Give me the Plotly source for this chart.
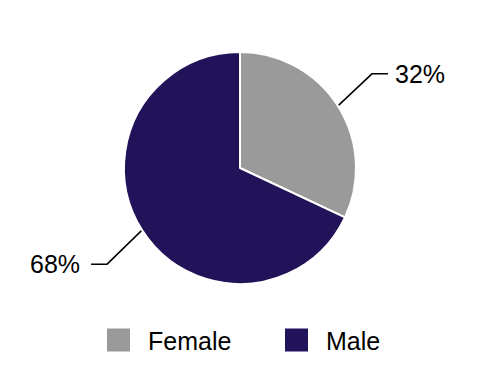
import math
import plotly.graph_objects as go

# ---- data ----
labels = ["Female", "Male"]
values = [32, 68]
colors = ["#9a9a9a", "#21125a"]
pct_labels = ["32%", "68%"]

# ---- layout constants ----
W, H = 478, 380
cx, cy, r = 240, 168, 116
FONT = "Liberation Sans, Arial, sans-serif"
FS = 25

fig = go.Figure()

fig.add_trace(go.Pie(
    labels=labels, values=values, sort=False, direction="clockwise", rotation=0,
    marker=dict(colors=colors, line=dict(color="white", width=2)),
    textinfo="none", hoverinfo="skip", showlegend=False,
    domain=dict(x=[(cx - r) / W, (cx + r) / W], y=[(H - cy - r) / H, (H - cy + r) / H]),
))

annotations = []
total = sum(values)
cum = 0
for v, t in zip(values, pct_labels):
    mid = (cum + v / 2) / total * 2 * math.pi
    cum += v
    sx, sy = math.sin(mid), -math.cos(mid)
    px, py = cx + r * sx, cy + r * sy
    side = 1 if sx >= 0 else -1
    if side > 0:
        ddx, ddy, gap = 34, 32, 5
    else:
        ddx, ddy, gap = 35, 34, 9
    ex = px + side * ddx
    ey = py + (ddy if sy > 0 else -ddy)
    hx = ex + side * 16
    fig.add_trace(go.Scatter(
        x=[px, ex, hx], y=[py, ey, ey], mode="lines",
        line=dict(color="black", width=1.5), hoverinfo="skip", showlegend=False,
        xaxis="x", yaxis="y",
    ))
    annotations.append(dict(
        x=hx + side * gap, y=ey, xref="x", yref="y", text=t, showarrow=False,
        xanchor="left" if side > 0 else "right", yanchor="middle",
        font=dict(family=FONT, size=FS, color="black"),
    ))

# manual legend
leg_x = [118.5, 296.5]
leg_y = 340
fig.add_trace(go.Scatter(
    x=leg_x, y=[leg_y] * len(leg_x), mode="markers",
    marker=dict(symbol="square", size=23, color=colors, line=dict(width=0)),
    hoverinfo="skip", showlegend=False,
))
for lx, lab in zip(leg_x, labels):
    annotations.append(dict(
        x=lx + 27, y=leg_y + 1, xref="x", yref="y", text=lab, showarrow=False,
        xanchor="left", yanchor="middle",
        font=dict(family=FONT, size=FS, color="black"),
    ))

fig.update_layout(
    width=W, height=H,
    margin=dict(l=0, r=0, t=0, b=0),
    paper_bgcolor="white", plot_bgcolor="rgba(0,0,0,0)",
    xaxis=dict(range=[0, W], visible=False, fixedrange=True, domain=[0, 1]),
    yaxis=dict(range=[H, 0], visible=False, fixedrange=True, domain=[0, 1]),
    annotations=annotations,
    showlegend=False,
)

fig.write_html(
    "out.html",
    config={"displayModeBar": False},
    post_script="document.body.style.margin='0';document.body.style.padding='0';",
)
